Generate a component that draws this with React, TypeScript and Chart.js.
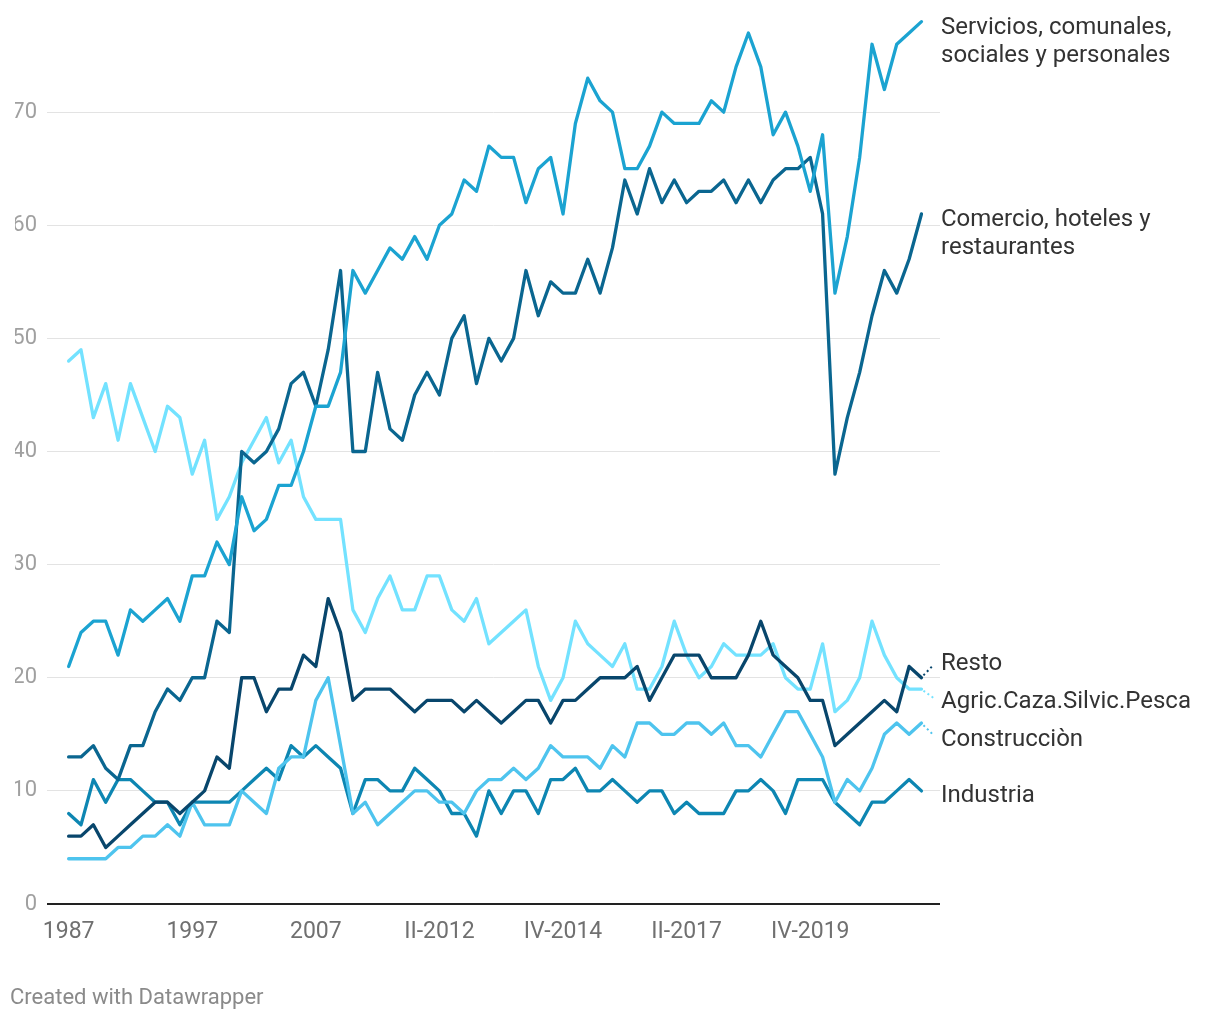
import React, { useEffect, useRef } from "react";
import { Chart, registerables } from "chart.js";

Chart.register(...registerables);

// ---- data ----
const categories = [
  "1987", "1988", "1989", "1990", "1991", "1992", "1993", "1994", "1995", "1996",
  "1997", "1998", "1999", "2000", "2001", "2002", "2003", "2004", "2005", "2006",
  "2007", "I-2010", "II-2010", "III-2010", "IV-2010", "I-2011", "II-2011", "III-2011", "IV-2011", "I-2012",
  "II-2012", "III-2012", "IV-2012", "I-2013", "II-2013", "III-2013", "IV-2013", "I-2014", "II-2014", "III-2014",
  "IV-2014", "I-2015", "II-2015", "III-2015", "IV-2015", "I-2016", "II-2016", "III-2016", "IV-2016", "I-2017",
  "II-2017", "III-2017", "IV-2017", "I-2018", "II-2018", "III-2018", "IV-2018", "I-2019", "II-2019", "III-2019",
  "IV-2019", "I-2020", "II-2020", "III-2020", "IV-2020", "I-2021", "II-2021", "III-2021", "IV-2021", "I-2022",
];

const xTickIndices = [0, 10, 20, 30, 40, 50, 60];
const yTickValues = [0, 10, 20, 30, 40, 50, 60, 70];

const servicios = [
  21, 24, 25, 25, 22, 26, 25, 26, 27, 25,
  29, 29, 32, 30, 36, 33, 34, 37, 37, 40,
  44, 44, 47, 56, 54, 56, 58, 57, 59, 57,
  60, 61, 64, 63, 67, 66, 66, 62, 65, 66,
  61, 69, 73, 71, 70, 65, 65, 67, 70, 69,
  69, 69, 71, 70, 74, 77, 74, 68, 70, 67,
  63, 68, 54, 59, 66, 76, 72, 76, 77, 78,
];

const comercio = [
  13, 13, 14, 12, 11, 14, 14, 17, 19, 18,
  20, 20, 25, 24, 40, 39, 40, 42, 46, 47,
  44, 49, 56, 40, 40, 47, 42, 41, 45, 47,
  45, 50, 52, 46, 50, 48, 50, 56, 52, 55,
  54, 54, 57, 54, 58, 64, 61, 65, 62, 64,
  62, 63, 63, 64, 62, 64, 62, 64, 65, 65,
  66, 61, 38, 43, 47, 52, 56, 54, 57, 61,
];

const resto = [
  6, 6, 7, 5, 6, 7, 8, 9, 9, 8,
  9, 10, 13, 12, 20, 20, 17, 19, 19, 22,
  21, 27, 24, 18, 19, 19, 19, 18, 17, 18,
  18, 18, 17, 18, 17, 16, 17, 18, 18, 16,
  18, 18, 19, 20, 20, 20, 21, 18, 20, 22,
  22, 22, 20, 20, 20, 22, 25, 22, 21, 20,
  18, 18, 14, 15, 16, 17, 18, 17, 21, 20,
];

const agric = [
  48, 49, 43, 46, 41, 46, 43, 40, 44, 43,
  38, 41, 34, 36, 39, 41, 43, 39, 41, 36,
  34, 34, 34, 26, 24, 27, 29, 26, 26, 29,
  29, 26, 25, 27, 23, 24, 25, 26, 21, 18,
  20, 25, 23, 22, 21, 23, 19, 19, 21, 25,
  22, 20, 21, 23, 22, 22, 22, 23, 20, 19,
  19, 23, 17, 18, 20, 25, 22, 20, 19, 19,
];

const construccion = [
  4, 4, 4, 4, 5, 5, 6, 6, 7, 6,
  9, 7, 7, 7, 10, 9, 8, 12, 13, 13,
  18, 20, 14, 8, 9, 7, 8, 9, 10, 10,
  9, 9, 8, 10, 11, 11, 12, 11, 12, 14,
  13, 13, 13, 12, 14, 13, 16, 16, 15, 15,
  16, 16, 15, 16, 14, 14, 13, 15, 17, 17,
  15, 13, 9, 11, 10, 12, 15, 16, 15, 16,
];

const industria = [
  8, 7, 11, 9, 11, 11, 10, 9, 9, 7,
  9, 9, 9, 9, 10, 11, 12, 11, 14, 13,
  14, 13, 12, 8, 11, 11, 10, 10, 12, 11,
  10, 8, 8, 6, 10, 8, 10, 10, 8, 11,
  11, 12, 10, 10, 11, 10, 9, 10, 10, 8,
  9, 8, 8, 8, 10, 10, 11, 10, 8, 11,
  11, 11, 9, 8, 7, 9, 9, 10, 11, 10,
];

const seriesLabels = [
  ["Servicios, comunales,", "sociales y personales"],
  ["Comercio, hoteles y", "restaurantes"],
  ["Resto"],
  ["Agric.Caza.Silvic.Pesca"],
  ["Construcciòn"],
  ["Industria"],
];

const seriesValues = [servicios, comercio, resto, agric, construccion, industria];

// ---- styles ----
const seriesColors = ["#1ba3d1", "#0a6690", "#08466c", "#73e2ff", "#4ec4ee", "#0d86b2"];
const labelDy = [6.5, 6, -14, 13, 17, 5];
const FONT = "Roboto, 'Noto Sans', sans-serif";

const endLabelsPlugin = {
  id: "endLabels",
  afterDatasetsDraw(chart: any) {
    const ctx = chart.ctx;
    const xText = chart.chartArea.right + 1;
    chart.data.datasets.forEach((ds: any, i: number) => {
      const meta = chart.getDatasetMeta(i);
      const pt = meta.data[meta.data.length - 1];
      if (!pt) return;
      const ly = pt.y + labelDy[i];
      ctx.save();
      if (Math.abs(labelDy[i]) > 8) {
        const tipY = ly - 2;
        ctx.strokeStyle = seriesColors[i];
        ctx.lineWidth = 2;
        ctx.setLineDash([2, 3]);
        ctx.beginPath();
        ctx.moveTo(pt.x + 2, pt.y + (tipY - pt.y) * 0.15);
        ctx.lineTo(pt.x + 12, pt.y + (tipY - pt.y) * 0.8);
        ctx.stroke();
        ctx.setLineDash([]);
      }
      ctx.fillStyle = "#333333";
      ctx.font = `24px ${FONT}`;
      ctx.textBaseline = "middle";
      ctx.textAlign = "left";
      seriesLabels[i].forEach((t, j) => ctx.fillText(t, xText, ly + j * 28));
      ctx.restore();
    });
  },
  afterDraw(chart: any) {
    const ctx = chart.ctx;
    ctx.save();
    ctx.fillStyle = "#8a8a8a";
    ctx.font = `22px ${FONT}`;
    ctx.textBaseline = "middle";
    ctx.textAlign = "left";
    ctx.fillText("Created with Datawrapper", 10, 998);
    ctx.restore();
  },
};

export default function App() {
  const canvasRef = useRef<HTMLCanvasElement | null>(null);

  useEffect(() => {
    document.body.style.margin = "0";
    const canvas = canvasRef.current;
    if (!canvas) return;
    const chart = new Chart(canvas, {
      type: "line",
      data: {
        datasets: seriesValues.map((vals, i) => ({
          label: seriesLabels[i].join(" "),
          data: vals.map((v, idx) => ({ x: idx, y: v })),
          borderColor: seriesColors[i],
          backgroundColor: seriesColors[i],
          borderWidth: 3.3,
          pointRadius: 0,
          pointHoverRadius: 0,
          tension: 0,
          borderJoinStyle: "round" as const,
          borderCapStyle: "round" as const,
          fill: false,
        })),
      },
      options: {
        animation: false,
        responsive: false,
        maintainAspectRatio: false,
        layout: { padding: { left: 15, right: 280, top: 16, bottom: 0 } },
        plugins: {
          legend: { display: false },
          tooltip: { enabled: false },
        },
        events: [],
        scales: {
          x: {
            type: "linear",
            min: -1.75,
            max: 70.5,
            afterBuildTicks: (scale: any) => {
              scale.ticks = xTickIndices.map((v) => ({ value: v }));
            },
            afterFit: (scale: any) => {
              scale.height = 116;
              scale.paddingLeft = 0;
              scale.paddingRight = 0;
            },
            grid: { display: false, drawTicks: false },
            border: { display: false },
            ticks: {
              padding: 14,
              maxRotation: 0,
              autoSkip: false,
              color: "#707070",
              font: { family: FONT, size: 23 },
              callback: (value: any) => categories[value as number] ?? "",
            },
          },
          y: {
            type: "linear",
            min: 0,
            max: 78.5,
            afterBuildTicks: (scale: any) => {
              scale.ticks = yTickValues.map((v) => ({ value: v }));
            },
            afterFit: (scale: any) => {
              scale.width = 32;
              scale.paddingTop = 0;
              scale.paddingBottom = 0;
            },
            grid: {
              drawTicks: false,
              color: (c: any) => (c.tick && c.tick.value === 0 ? "#222222" : "#e3e3e3"),
              lineWidth: (c: any) => (c.tick && c.tick.value === 0 ? 2 : 1),
            },
            border: { display: false },
            ticks: {
              padding: 10,
              color: "#a0a0a0",
              font: { family: FONT, size: 22 },
            },
          },
        },
      },
      plugins: [endLabelsPlugin],
    });
    return () => chart.destroy();
  }, []);

  return (
    <div style={{ width: 1220, height: 1020, background: "#fff" }}>
      <canvas ref={canvasRef} width={1220} height={1020} style={{ width: 1220, height: 1020, display: "block" }} />
    </div>
  );
}
